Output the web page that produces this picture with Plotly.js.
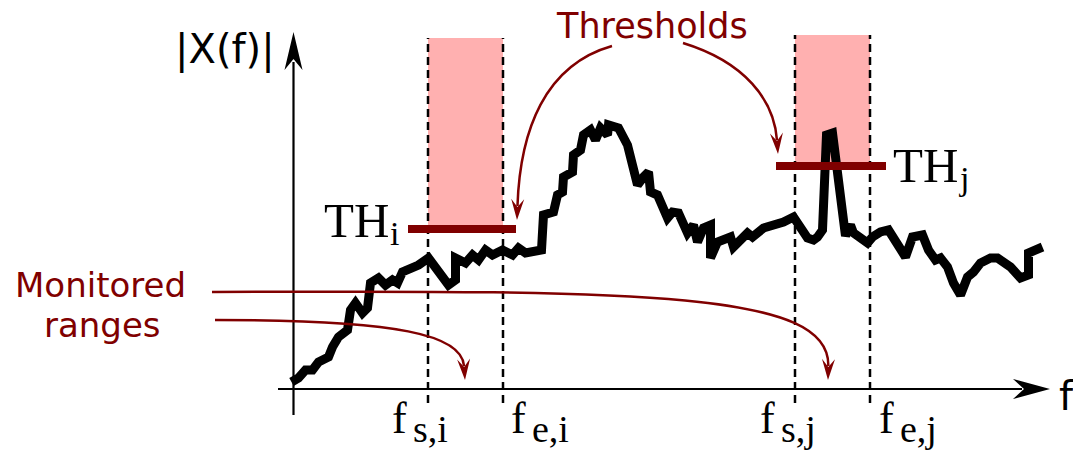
<!DOCTYPE html>
<html><head><meta charset="utf-8">
<script src="https://cdn.plot.ly/plotly-3.0.1.min.js"></script>
<style>html,body{margin:0;padding:0;background:#fff;}#chart{width:1073px;height:452px;}</style>
</head><body><div id="chart"></div>
<script>
// Spectrum |X(f)| (f and magnitude in axis units, origin at the axes crossing)
const freq = [-2,5,12,19,25,35,39,45,54,57,62,69,74,77,85,92,99,104,109,119,125,135,149,155,162,162,172,179,185,192,199,209,219,225,232,245,248,250,260,264,269,270,279,280,287,290,297,302,307,314,315,325,334,339,344,350,355,357,364,374,379,385,394,400,404,410,417,417,424,437,440,454,459,470,479,484,490,500,514,520,524,529,533,539,545,552,554,557,560,567,574,579,587,595,604,612,619,629,635,642,647,654,660,667,674,680,687,697,704,717,727,735,735,744,749];
const magnitude = [7,11,19,19,27,32,42,52,59,79,86,76,81,106,111,104,109,106,117,121,124,131,112,104,109,131,126,134,129,139,134,139,134,141,136,138,139,174,177,194,197,212,217,234,239,254,259,249,261,254,264,261,244,224,204,212,217,197,194,171,177,176,156,164,147,161,164,131,147,152,142,156,152,161,164,164,167,172,151,149,152,159,254,256,209,153,159,164,156,152,146,152,157,159,146,132,152,154,139,129,131,122,106,94,112,117,126,131,131,122,111,114,136,141,142];

// Monitored ranges and thresholds
const rangeStart = [134.5, 501.5];
const rangeEnd = [209.5, 576.5];
const thresholdLevel = [160, 223];
const rangeTop = [351, 354];
const thresholdMain = ['TH', 'TH'];
const thresholdSub = ['i', 'j'];
const edgeMain = ['f', 'f', 'f', 'f'];
const edgeSub = ['s,i', 'e,i', 's,j', 'e,j'];
const edgeValues = [rangeStart[0], rangeEnd[0], rangeStart[1], rangeEnd[1]];

const OX = 293.5, OY = 389;
const X = px => px - OX;
const Y = py => OY - py;
const RED = '#800000';
const SANS = 'DejaVu Sans, sans-serif';
const SERIF = 'Liberation Serif, Times New Roman, serif';

const shapes = [];
const ann = [];

function poly(pts, color) {
  shapes.push({type: 'path', xref: 'x', yref: 'y', layer: 'above',
    path: 'M' + pts.map(p => X(p[0]) + ',' + Y(p[1])).join('L') + 'Z',
    fillcolor: color, line: {width: 0}});
}
function head(tip, dir, len, half, notch, color) {
  const n = Math.hypot(dir[0], dir[1]);
  const ux = dir[0] / n, uy = dir[1] / n, vx = -uy, vy = ux;
  const b = [tip[0] - ux * len, tip[1] - uy * len];
  poly([tip, [b[0] + vx * half, b[1] + vy * half], [tip[0] - ux * notch, tip[1] - uy * notch], [b[0] - vx * half, b[1] - vy * half]], color);
  return [tip[0] - ux * (notch + 1), tip[1] - uy * (notch + 1)];
}
function curved(s, c1, c2, tip, color) {
  const end = head(tip, [tip[0] - c2[0], tip[1] - c2[1]], 21, 6.5, 13, color);
  const P = p => X(p[0]) + ',' + Y(p[1]);
  shapes.push({type: 'path', xref: 'x', yref: 'y', layer: 'above',
    path: 'M' + P(s) + ' C' + P(c1) + ' ' + P(c2) + ' ' + P(end),
    fillcolor: 'rgba(0,0,0,0)', line: {color: color, width: 2.5}});
}
function label(text, px, baseline, size, family, color, anchor) {
  ann.push({x: X(px), y: Y(baseline - 0.34 * size), xref: 'x', yref: 'y', text: text,
    showarrow: false, xanchor: anchor, yanchor: 'middle', borderpad: 0, borderwidth: 0,
    font: {family: family, size: size, color: color}});
}

// pink monitored boxes
for (let k = 0; k < 2; k++) {
  shapes.push({type: 'rect', xref: 'x', yref: 'y', layer: 'below',
    x0: rangeStart[k], x1: rangeEnd[k], y0: thresholdLevel[k], y1: rangeTop[k],
    fillcolor: '#ffb0b0', line: {width: 0}});
}
// dashed range edges
for (let k = 0; k < 4; k++) {
  shapes.push({type: 'line', xref: 'x', yref: 'y', layer: 'below',
    x0: edgeValues[k], x1: edgeValues[k], y0: -14, y1: rangeTop[k < 2 ? 0 : 1],
    line: {color: '#000', width: 2.5, dash: '8px,5px'}});
}
// threshold bars
const thLeftExt = [20, 19], thRightExt = [13, 16];
for (let k = 0; k < 2; k++) {
  shapes.push({type: 'line', xref: 'x', yref: 'y', layer: 'above',
    x0: rangeStart[k] - thLeftExt[k], x1: rangeEnd[k] + thRightExt[k],
    y0: thresholdLevel[k], y1: thresholdLevel[k], line: {color: RED, width: 8}});
}
// axes
shapes.push({type: 'line', xref: 'x', yref: 'y', layer: 'above', x0: 0, x1: 0, y0: Y(415), y1: Y(62), line: {color: '#000', width: 2.2}});
head([OX, 32], [0, -1], 38, 9, 27, '#000');
shapes.push({type: 'line', xref: 'x', yref: 'y', layer: 'above', x0: X(278), x1: X(1022), y0: 0, y1: 0, line: {color: '#000', width: 2.2}});
head([1050, OY], [1, 0], 37, 10, 26, '#000');

// curved annotation arrows
curved([612, 46], [545, 65], [520, 130], [517, 220], RED);
curved([683, 43], [745, 62], [774, 100], [778, 154], RED);
curved([212, 292], [650, 290], [830, 292], [828, 380], RED);
curved([215, 320], [400, 320], [462, 335], [465, 380], RED);

// texts
label('Thresholds', 652, 38, 35, SANS, RED, 'center');
label('Monitored', 100, 297, 34, SANS, RED, 'center');
label('ranges', 102, 337, 34, SANS, RED, 'center');
label('|X(f)|', 225, 63, 40, SANS, '#000', 'center');
label('f', 1066, 410, 40, SANS, '#000', 'center');

label(thresholdMain[0], 389, 237, 49, SERIF, '#000', 'right');
label(thresholdSub[0], 389.5, 245, 34, SERIF, '#000', 'left');
label(thresholdMain[1], 893, 182, 49, SERIF, '#000', 'left');
label(thresholdSub[1], 959, 190, 34, SERIF, '#000', 'left');

const edgeLeftPx = [393, 512, 761, 880];
for (let k = 0; k < 4; k++) {
  label(edgeMain[k], edgeLeftPx[k] - 1, 433, 44, SERIF, '#000', 'left');
  label(edgeSub[k], edgeLeftPx[k] + 20, 442, 38, SERIF, '#000', 'left');
}

const trace = {x: freq, y: magnitude, type: 'scatter', mode: 'lines',
  line: {color: '#000', width: 9}, hoverinfo: 'skip', showlegend: false};

const layout = {
  width: 1073, height: 452, margin: {l: 0, r: 0, t: 0, b: 0},
  paper_bgcolor: '#fff', plot_bgcolor: '#fff', showlegend: false,
  xaxis: {range: [X(0), X(1073)], visible: false, fixedrange: true},
  yaxis: {range: [Y(452), Y(0)], visible: false, fixedrange: true},
  shapes: shapes, annotations: ann
};
Plotly.newPlot('chart', [trace], layout, {staticPlot: true, displayModeBar: false});
</script>
</body></html>
